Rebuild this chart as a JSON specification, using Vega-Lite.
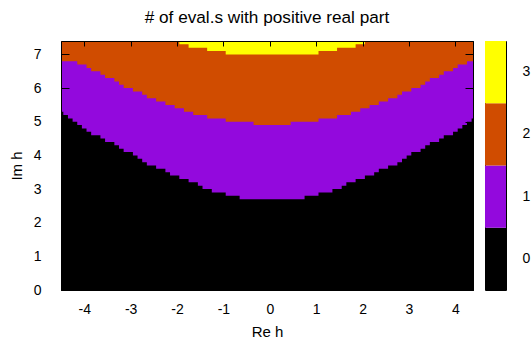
{
  "$schema": "https://vega.github.io/schema/vega-lite/v6.json",
  "padding": {"left": 8, "top": 8, "right": 0, "bottom": 0},
  "bounds": "flush",
  "spacing": 12,
  "config": {
    "font": "Liberation Sans",
    "view": {"stroke": "#000000", "strokeWidth": 1},
    "axis": {"zindex": 2, "grid": false, "labelOverlap": false, "domainColor": "#000000", "tickColor": "#000000", "tickWidth": 1, "labelColor": "#000000", "titleColor": "#000000", "labelFontSize": 14, "titleFontSize": 15, "titleFontWeight": "normal", "labelFont": "Liberation Sans", "titleFont": "Liberation Sans"}
  },
  "hconcat": [
    {
      "width": 412,
      "height": 249,
      "title": {"text": "# of eval.s with positive real part", "fontSize": 17.2, "fontWeight": "normal", "font": "Liberation Sans", "color": "#000000", "frame": "group", "anchor": "middle", "baseline": "alphabetic", "offset": 0},
      "data": {"values": [
        {"x": -4.5, "b1": 5.3, "b2": 6.8, "b3": 7.4},
        {"x": -4.4, "b1": 5.2, "b2": 6.8, "b3": 7.4},
        {"x": -4.3, "b1": 5.1, "b2": 6.8, "b3": 7.4},
        {"x": -4.2, "b1": 5.0, "b2": 6.8, "b3": 7.4},
        {"x": -4.1, "b1": 4.9, "b2": 6.7, "b3": 7.4},
        {"x": -4.0, "b1": 4.8, "b2": 6.7, "b3": 7.4},
        {"x": -3.9, "b1": 4.7, "b2": 6.6, "b3": 7.4},
        {"x": -3.8, "b1": 4.6, "b2": 6.5, "b3": 7.4},
        {"x": -3.7, "b1": 4.6, "b2": 6.5, "b3": 7.4},
        {"x": -3.6, "b1": 4.5, "b2": 6.4, "b3": 7.4},
        {"x": -3.5, "b1": 4.4, "b2": 6.3, "b3": 7.4},
        {"x": -3.4, "b1": 4.4, "b2": 6.3, "b3": 7.4},
        {"x": -3.3, "b1": 4.3, "b2": 6.2, "b3": 7.4},
        {"x": -3.2, "b1": 4.2, "b2": 6.1, "b3": 7.4},
        {"x": -3.1, "b1": 4.1, "b2": 6.0, "b3": 7.4},
        {"x": -3.0, "b1": 4.1, "b2": 6.0, "b3": 7.4},
        {"x": -2.9, "b1": 4.0, "b2": 5.9, "b3": 7.4},
        {"x": -2.8, "b1": 3.9, "b2": 5.9, "b3": 7.4},
        {"x": -2.7, "b1": 3.8, "b2": 5.8, "b3": 7.4},
        {"x": -2.6, "b1": 3.7, "b2": 5.7, "b3": 7.4},
        {"x": -2.5, "b1": 3.7, "b2": 5.7, "b3": 7.4},
        {"x": -2.4, "b1": 3.6, "b2": 5.6, "b3": 7.4},
        {"x": -2.3, "b1": 3.6, "b2": 5.6, "b3": 7.4},
        {"x": -2.2, "b1": 3.5, "b2": 5.5, "b3": 7.4},
        {"x": -2.1, "b1": 3.4, "b2": 5.5, "b3": 7.4},
        {"x": -2.0, "b1": 3.4, "b2": 5.4, "b3": 7.4},
        {"x": -1.9, "b1": 3.3, "b2": 5.4, "b3": 7.3},
        {"x": -1.8, "b1": 3.3, "b2": 5.3, "b3": 7.3},
        {"x": -1.7, "b1": 3.2, "b2": 5.3, "b3": 7.2},
        {"x": -1.6, "b1": 3.2, "b2": 5.2, "b3": 7.2},
        {"x": -1.5, "b1": 3.1, "b2": 5.2, "b3": 7.2},
        {"x": -1.4, "b1": 3.0, "b2": 5.2, "b3": 7.2},
        {"x": -1.3, "b1": 3.0, "b2": 5.1, "b3": 7.1},
        {"x": -1.2, "b1": 2.9, "b2": 5.1, "b3": 7.1},
        {"x": -1.1, "b1": 2.9, "b2": 5.1, "b3": 7.1},
        {"x": -1.0, "b1": 2.9, "b2": 5.1, "b3": 7.1},
        {"x": -0.9, "b1": 2.8, "b2": 5.0, "b3": 7.0},
        {"x": -0.8, "b1": 2.8, "b2": 5.0, "b3": 7.0},
        {"x": -0.7, "b1": 2.8, "b2": 5.0, "b3": 7.0},
        {"x": -0.6, "b1": 2.7, "b2": 5.0, "b3": 7.0},
        {"x": -0.5, "b1": 2.7, "b2": 5.0, "b3": 7.0},
        {"x": -0.4, "b1": 2.7, "b2": 5.0, "b3": 7.0},
        {"x": -0.3, "b1": 2.7, "b2": 4.9, "b3": 7.0},
        {"x": -0.2, "b1": 2.7, "b2": 4.9, "b3": 7.0},
        {"x": -0.1, "b1": 2.7, "b2": 4.9, "b3": 7.0},
        {"x": 0.0, "b1": 2.7, "b2": 4.9, "b3": 7.0},
        {"x": 0.1, "b1": 2.7, "b2": 4.9, "b3": 7.0},
        {"x": 0.2, "b1": 2.7, "b2": 4.9, "b3": 7.0},
        {"x": 0.3, "b1": 2.7, "b2": 4.9, "b3": 7.0},
        {"x": 0.4, "b1": 2.7, "b2": 4.9, "b3": 7.0},
        {"x": 0.5, "b1": 2.7, "b2": 5.0, "b3": 7.0},
        {"x": 0.6, "b1": 2.7, "b2": 5.0, "b3": 7.0},
        {"x": 0.7, "b1": 2.7, "b2": 5.0, "b3": 7.0},
        {"x": 0.8, "b1": 2.8, "b2": 5.0, "b3": 7.0},
        {"x": 0.9, "b1": 2.8, "b2": 5.0, "b3": 7.0},
        {"x": 1.0, "b1": 2.8, "b2": 5.0, "b3": 7.0},
        {"x": 1.1, "b1": 2.9, "b2": 5.1, "b3": 7.1},
        {"x": 1.2, "b1": 2.9, "b2": 5.1, "b3": 7.1},
        {"x": 1.3, "b1": 2.9, "b2": 5.1, "b3": 7.1},
        {"x": 1.4, "b1": 3.0, "b2": 5.1, "b3": 7.1},
        {"x": 1.5, "b1": 3.0, "b2": 5.2, "b3": 7.2},
        {"x": 1.6, "b1": 3.1, "b2": 5.2, "b3": 7.2},
        {"x": 1.7, "b1": 3.2, "b2": 5.2, "b3": 7.2},
        {"x": 1.8, "b1": 3.2, "b2": 5.3, "b3": 7.2},
        {"x": 1.9, "b1": 3.3, "b2": 5.3, "b3": 7.3},
        {"x": 2.0, "b1": 3.3, "b2": 5.4, "b3": 7.3},
        {"x": 2.1, "b1": 3.4, "b2": 5.4, "b3": 7.4},
        {"x": 2.2, "b1": 3.4, "b2": 5.5, "b3": 7.4},
        {"x": 2.3, "b1": 3.5, "b2": 5.5, "b3": 7.4},
        {"x": 2.4, "b1": 3.6, "b2": 5.6, "b3": 7.4},
        {"x": 2.5, "b1": 3.6, "b2": 5.6, "b3": 7.4},
        {"x": 2.6, "b1": 3.7, "b2": 5.7, "b3": 7.4},
        {"x": 2.7, "b1": 3.7, "b2": 5.7, "b3": 7.4},
        {"x": 2.8, "b1": 3.8, "b2": 5.8, "b3": 7.4},
        {"x": 2.9, "b1": 3.9, "b2": 5.9, "b3": 7.4},
        {"x": 3.0, "b1": 4.0, "b2": 5.9, "b3": 7.4},
        {"x": 3.1, "b1": 4.1, "b2": 6.0, "b3": 7.4},
        {"x": 3.2, "b1": 4.1, "b2": 6.0, "b3": 7.4},
        {"x": 3.3, "b1": 4.2, "b2": 6.1, "b3": 7.4},
        {"x": 3.4, "b1": 4.3, "b2": 6.2, "b3": 7.4},
        {"x": 3.5, "b1": 4.4, "b2": 6.3, "b3": 7.4},
        {"x": 3.6, "b1": 4.4, "b2": 6.3, "b3": 7.4},
        {"x": 3.7, "b1": 4.5, "b2": 6.4, "b3": 7.4},
        {"x": 3.8, "b1": 4.6, "b2": 6.5, "b3": 7.4},
        {"x": 3.9, "b1": 4.6, "b2": 6.5, "b3": 7.4},
        {"x": 4.0, "b1": 4.7, "b2": 6.6, "b3": 7.4},
        {"x": 4.1, "b1": 4.8, "b2": 6.7, "b3": 7.4},
        {"x": 4.2, "b1": 4.9, "b2": 6.7, "b3": 7.4},
        {"x": 4.3, "b1": 5.0, "b2": 6.8, "b3": 7.4},
        {"x": 4.4, "b1": 5.1, "b2": 6.8, "b3": 7.4}
      ]},
      "layer": [
        {
          "encoding": {
            "x": {"field": "x", "type": "quantitative", "scale": {"domain": [-4.5, 4.38], "nice": false, "zero": false}, "axis": {"orient": "bottom", "values": [-4, -3, -2, -1, 0, 1, 2, 3, 4], "labelExpr": "'' + datum.value", "tickSize": -5, "labelPadding": 17, "title": "Re h", "titlePadding": 8, "zindex": 2, "labelOverlap": false}}
          },
          "layer": [
            {"mark": {"type": "area", "interpolate": "step", "orient": "vertical", "color": "#ffff00", "clip": true},
             "encoding": {"y": {"datum": 7.4, "type": "quantitative", "scale": {"domain": [0, 7.4], "nice": false, "zero": false}, "axis": {"orient": "left", "values": [0, 1, 2, 3, 4, 5, 6, 7], "tickCount": 8, "tickSize": -8, "labelPadding": 28, "title": "Im h", "titlePadding": 9, "zindex": 2, "labelOverlap": false}}, "y2": {"datum": 0}}},
            {"mark": {"type": "area", "interpolate": "step", "orient": "vertical", "color": "#d04c00", "clip": true},
             "encoding": {"y": {"field": "b3", "type": "quantitative", "scale": {"domain": [0, 7.4], "nice": false, "zero": false}, "axis": {"orient": "left", "values": [0, 1, 2, 3, 4, 5, 6, 7], "tickCount": 8, "tickSize": -8, "labelPadding": 28, "title": "Im h", "titlePadding": 9, "zindex": 2, "labelOverlap": false}}, "y2": {"datum": 0}}},
            {"mark": {"type": "area", "interpolate": "step", "orient": "vertical", "color": "#9309dd", "clip": true},
             "encoding": {"y": {"field": "b2", "type": "quantitative", "scale": {"domain": [0, 7.4], "nice": false, "zero": false}, "axis": {"orient": "left", "values": [0, 1, 2, 3, 4, 5, 6, 7], "tickCount": 8, "tickSize": -8, "labelPadding": 28, "title": "Im h", "titlePadding": 9, "zindex": 2, "labelOverlap": false}}, "y2": {"datum": 0}}},
            {"mark": {"type": "area", "interpolate": "step", "orient": "vertical", "color": "#000000", "clip": true},
             "encoding": {"y": {"field": "b1", "type": "quantitative", "scale": {"domain": [0, 7.4], "nice": false, "zero": false}, "axis": {"orient": "left", "values": [0, 1, 2, 3, 4, 5, 6, 7], "tickCount": 8, "tickSize": -8, "labelPadding": 28, "title": "Im h", "titlePadding": 9, "zindex": 2, "labelOverlap": false}}, "y2": {"datum": 0}}}
          ]
        },
        {
          "mark": {"type": "point", "opacity": 0},
          "encoding": {
            "x": {"field": "x", "type": "quantitative", "axis": {"orient": "top", "values": [-4, -3, -2, -1, 0, 1, 2, 3, 4], "tickSize": -5, "labels": false, "title": null, "zindex": 2}},
            "y": {"field": "b1", "type": "quantitative", "axis": {"orient": "right", "values": [0, 1, 2, 3, 4, 5, 6, 7], "tickSize": -8, "labels": false, "title": null, "zindex": 2}}
          }
        }
      ],
      "resolve": {"axis": {"x": "independent", "y": "independent"}}
    },
    {
      "width": 21,
      "height": 249,
      "data": {"values": [{"n": 0}, {"n": 1}, {"n": 2}, {"n": 3}]},
      "mark": {"type": "rect"},
      "encoding": {
        "y": {"field": "n", "type": "ordinal", "sort": "descending", "scale": {"paddingInner": 0, "paddingOuter": 0}, "axis": {"orient": "right", "title": null, "ticks": false, "domain": false, "labelPadding": 16, "labelAngle": 0}},
        "color": {"field": "n", "type": "ordinal", "scale": {"domain": [0, 1, 2, 3], "range": ["#000000", "#9309dd", "#d04c00", "#ffff00"]}, "legend": null}
      }
    }
  ]
}
